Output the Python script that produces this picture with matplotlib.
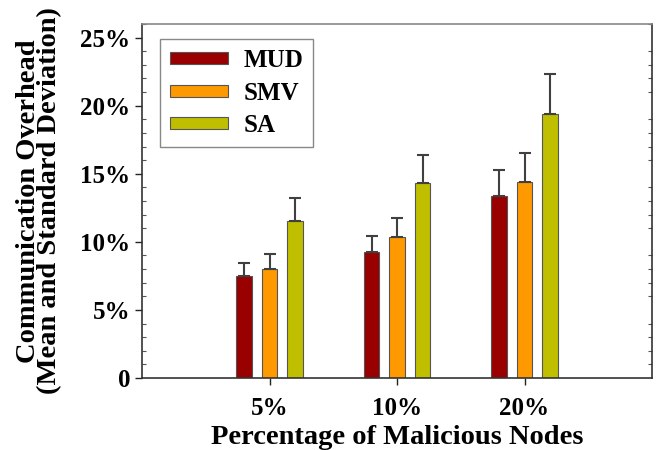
import numpy as np
import matplotlib
matplotlib.use("Agg")
import matplotlib.pyplot as plt
from matplotlib.ticker import MultipleLocator, FuncFormatter

plt.rcParams['font.family'] = ['Liberation Serif', 'DejaVu Serif']
plt.rcParams['font.weight'] = 'bold'

# data (percent)
groups = ['5%', '10%', '20%']
methods = ['MUD', 'SMV', 'SA']
mud_mean = [7.5, 9.25, 13.35]
smv_mean = [8.0, 10.35, 14.4]
sa_mean = [11.5, 14.3, 19.4]
mud_std = [0.95, 1.2, 1.95]
smv_std = [1.1, 1.4, 2.1]
sa_std = [1.7, 2.1, 2.9]

colors = ['#990000', '#ff9900', '#bfbf00']
means = [mud_mean, smv_mean, sa_mean]
stds = [mud_std, smv_std, sa_std]

fig = plt.figure(figsize=(6.56, 4.5), dpi=100)
ax = fig.add_axes([142/656, 1-378/450, 510/656, 354/450])

x = np.arange(1, len(groups)+1)
offsets = [-0.2, 0.0, 0.2]
for i in range(3):
    ax.bar(x + offsets[i], means[i], width=0.125, color=colors[i],
           edgecolor='#555555', linewidth=0.8, label=methods[i], zorder=2)
    ax.errorbar(x + offsets[i], means[i], yerr=[np.zeros(3), stds[i]],
                fmt='none', ecolor='#404040', elinewidth=1.5, capsize=4.5,
                capthick=1.5, zorder=3)

ax.set_xlim(0, 4)
ax.set_ylim(0, 26)
ax.set_xticks(x)
ax.set_xticklabels(groups)
ax.yaxis.set_major_locator(MultipleLocator(5))
ax.yaxis.set_minor_locator(MultipleLocator(1))
ax.yaxis.set_major_formatter(FuncFormatter(lambda v, p: '0' if v == 0 else '%d%%' % v))

ax.tick_params(axis='both', which='major', direction='out', length=5,
               width=1, labelsize=18, colors='#222222')
ax.tick_params(axis='y', which='minor', direction='in', length=3,
               width=0.8, right=True, colors='#555555')
ax.tick_params(axis='x', which='major', pad=9)
for lab in ax.get_xticklabels() + ax.get_yticklabels():
    lab.set_color('black')
    lab.set_fontweight('bold')

for s in ax.spines.values():
    s.set_color('#333333')
    s.set_linewidth(1.2)
ax.spines['top'].set_color('#888888')

ax.set_xlabel('Percentage of Malicious Nodes', fontsize=20.5, fontweight='bold', labelpad=3)
ax.set_ylabel('Communication Overhead\n(Mean and Standard Deviation)',
              fontsize=20.5, fontweight='bold', linespacing=0.8)
ax.yaxis.set_label_coords(-0.156, 0.5)

leg = ax.legend(loc='upper left', bbox_to_anchor=(18/510, 1-15/354),
                borderaxespad=0, fancybox=False, framealpha=1,
                edgecolor='#888888', fontsize=18, handlelength=2.3,
                handleheight=0.36, labelspacing=0.38, handletextpad=0.64,
                borderpad=0.4)
leg.get_frame().set_linewidth(1.0)
for t in leg.get_texts():
    t.set_fontweight('bold')

fig.savefig('out.png', dpi=100)
